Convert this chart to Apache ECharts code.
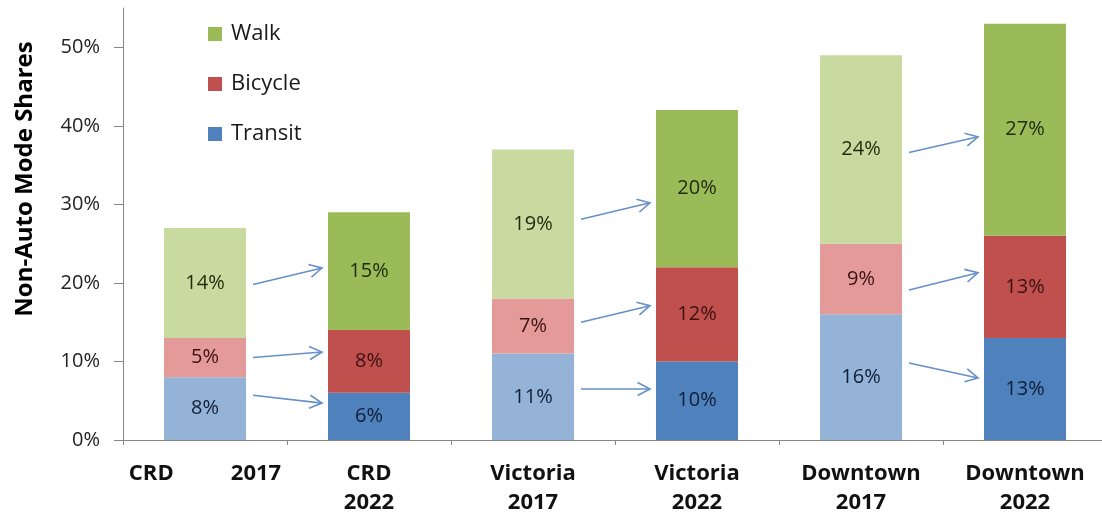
<!DOCTYPE html>
<html>
<head>
<meta charset="utf-8">
<script src="https://cdn.jsdelivr.net/npm/echarts@6/dist/echarts.min.js"></script>
<style>
  html, body { margin: 0; padding: 0; background: #ffffff; }
  #chart { width: 1102px; height: 512px; }
</style>
</head>
<body>
<div id="chart"></div>
<script>
// Area / year groups along the x axis
const categories = ['CRD          2017', 'CRD\n2022', 'Victoria\n2017', 'Victoria\n2022', 'Downtown\n2017', 'Downtown\n2022'];

// Mode shares (%) per group, stacked bottom to top: Transit, Bicycle, Walk
const transit = [8, 6, 11, 10, 16, 13];
const bicycle = [5, 8, 7, 12, 9, 13];
const walk = [14, 15, 19, 20, 24, 27];

// Y axis tick values (%)
const yTicks = [0, 10, 20, 30, 40, 50];

// Change arrows: [from group index, start value %, end value % at the next group]
const arrows = [
  [0, 5.7, 4.7], [0, 10.5, 11.2], [0, 19.8, 21.9],
  [2, 6.5, 6.5], [2, 15.0, 17.1], [2, 28.1, 30.2],
  [4, 9.8, 7.9], [4, 19.1, 21.3], [4, 36.6, 38.6]
];

// 2022 colours (full) and 2017 colours (pale)
const palette = {
  Transit: { dark: '#4f81bd', light: '#95b3d7', text: '#0f1e38' },
  Bicycle: { dark: '#c0504d', light: '#e39a99', text: '#3a1212' },
  Walk:    { dark: '#9bbb59', light: '#c8da9f', text: '#1f2a0c' }
};

const FONT = '"Open Sans", Lato, "Liberation Sans", sans-serif';

function barSeries(name, values) {
  const c = palette[name];
  return {
    name: name,
    type: 'bar',
    stack: 'share',
    barWidth: '50%',
    itemStyle: { color: c.dark },
    label: {
      show: true,
      position: 'inside',
      formatter: '{c}%',
      fontFamily: FONT,
      fontSize: 20,
      color: c.text
    },
    data: values.map((v, i) => ({
      value: v,
      itemStyle: { color: i % 2 === 0 ? c.light : c.dark }
    }))
  };
}

// Thin arrow with an open chevron head, from the right of one bar to the left of the next
function renderArrow(params, api) {
  const from = api.value(0);
  const p0 = api.coord([from, api.value(1)]);
  const p1 = api.coord([from + 1, api.value(2)]);
  const band = api.size([1, 0])[0];
  const half = band * 0.25;
  const x0 = p0[0] + half + 7, y0 = p0[1];
  const x1 = p1[0] - half - 6, y1 = p1[1];
  const ang = Math.atan2(y1 - y0, x1 - x0);
  const len = 14, spread = Math.PI / 6.5;
  const a = [x1 - len * Math.cos(ang - spread), y1 - len * Math.sin(ang - spread)];
  const b = [x1 - len * Math.cos(ang + spread), y1 - len * Math.sin(ang + spread)];
  const stroke = { stroke: '#6690c8', lineWidth: 1.6, fill: null };
  return {
    type: 'group',
    children: [
      { type: 'polyline', shape: { points: [[x0, y0], [x1, y1]] }, style: stroke },
      { type: 'polyline', shape: { points: [a, [x1, y1], b] }, style: stroke }
    ]
  };
}

const chart = echarts.init(document.getElementById('chart'), null, { renderer: 'canvas' });

chart.setOption({
  backgroundColor: '#ffffff',
  animation: false,
  textStyle: { fontFamily: FONT },
  grid: { left: 123, top: 8, width: 984, bottom: 72, containLabel: false, outerBoundsMode: 'none' },
  legend: {
    data: ['Walk', 'Bicycle', 'Transit'],
    orient: 'vertical',
    left: 203,
    top: 18,
    itemWidth: 14,
    itemHeight: 14,
    itemGap: 28,
    icon: 'rect',
    selectedMode: false,
    textStyle: { fontFamily: FONT, fontSize: 22, color: '#1a1a1a', lineHeight: 20, padding: [0, 0, 0, 4] }
  },
  graphic: [{
    type: 'text',
    x: 25,
    y: 179,
    rotation: Math.PI / 2,
    style: {
      text: 'Non-Auto Mode Shares',
      font: 'bold 24px ' + FONT,
      fill: '#000000',
      align: 'center',
      verticalAlign: 'middle'
    }
  }],
  xAxis: {
    type: 'category',
    data: categories,
    axisLine: { lineStyle: { color: '#868686', width: 1 } },
    axisTick: { show: true, length: 5, lineStyle: { color: '#868686' } },
    axisLabel: {
      interval: 0,
      margin: 19,
      fontFamily: FONT,
      fontWeight: 'bold',
      fontSize: 22,
      lineHeight: 29,
      color: '#111111'
    }
  },
  yAxis: {
    type: 'value',
    min: 0,
    max: 55,
    interval: 10,
    splitLine: { show: false },
    axisLine: { show: true, lineStyle: { color: '#868686', width: 1 } },
    axisTick: { show: true, length: 9, customValues: yTicks, lineStyle: { color: '#868686' } },
    axisLabel: {
      customValues: yTicks,
      formatter: '{value}%',
      margin: 23,
      fontFamily: FONT,
      fontSize: 20,
      color: '#222222'
    }
  },
  series: [
    barSeries('Transit', transit),
    barSeries('Bicycle', bicycle),
    barSeries('Walk', walk),
    {
      name: 'arrows',
      type: 'custom',
      coordinateSystem: 'cartesian2d',
      renderItem: renderArrow,
      encode: { x: 0, y: [1, 2] },
      z: 10,
      silent: true,
      data: arrows
    }
  ]
});
</script>
</body>
</html>
